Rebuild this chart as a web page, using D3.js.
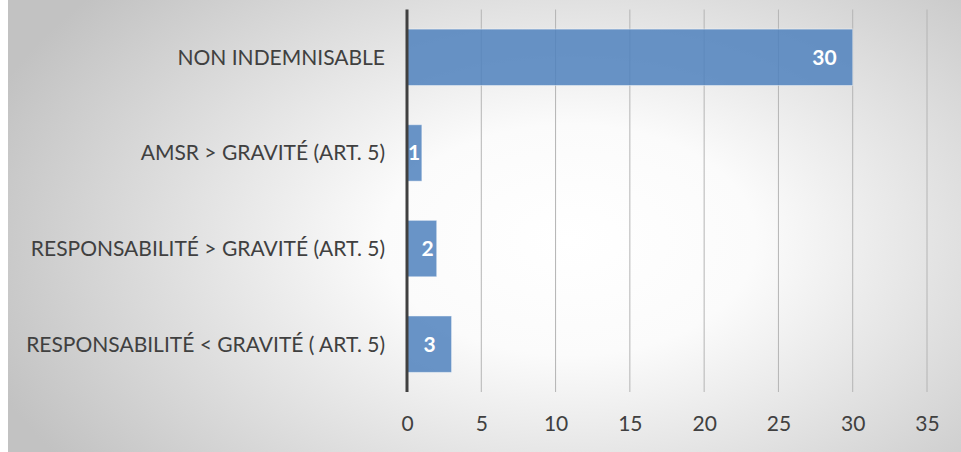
<!DOCTYPE html>
<html>
<head>
<meta charset="utf-8">
<script src="https://cdn.jsdelivr.net/npm/d3@7"></script>
<style>
  html, body { margin: 0; padding: 0; background: #fff; }
  svg { display: block; }
</style>
</head>
<body>
<svg id="chart"></svg>
<script>
// Data, top to bottom as drawn
const categories = [
  "NON INDEMNISABLE",
  "AMSR > GRAVITÉ (ART. 5)",
  "RESPONSABILITÉ > GRAVITÉ (ART. 5)",
  "RESPONSABILITÉ < GRAVITÉ ( ART. 5)"
];
const values = [30, 1, 2, 3];
const xTicks = [0, 5, 10, 15, 20, 25, 30, 35];

const width = 961;
const height = 452;
const margin = { top: 9.5, right: 34, bottom: 60, left: 407 };
const fontFamily = "Lato, 'Open Sans', sans-serif";
const fontSize = "21px";

const svg = d3.select("#chart").attr("width", width).attr("height", height);

// Background gradient
const defs = svg.append("defs");
const grad = defs
  .append("radialGradient")
  .attr("id", "bg")
  .attr("gradientUnits", "userSpaceOnUse")
  .attr("cx", 570)
  .attr("cy", 240)
  .attr("r", 620)
  .attr("gradientTransform", "translate(570,240) scale(1,0.62) translate(-570,-240)");
grad.append("stop").attr("offset", "0%").attr("stop-color", "#ffffff");
grad.append("stop").attr("offset", "30%").attr("stop-color", "#fbfbfb");
grad.append("stop").attr("offset", "100%").attr("stop-color", "#c2c2c2");

svg
  .append("rect")
  .attr("x", 8)
  .attr("y", 0)
  .attr("width", width - 8)
  .attr("height", height)
  .attr("fill", "url(#bg)");

// Scales
const xScale = d3
  .scaleLinear()
  .domain([0, 35])
  .range([margin.left, width - margin.right]);

const yScale = d3
  .scaleBand()
  .domain(categories)
  .range([margin.top, height - margin.bottom])
  .paddingInner(0.41)
  .paddingOuter(0.205);

const plotTop = margin.top;
const plotBottom = height - margin.bottom;

// Gridlines
svg
  .append("g")
  .attr("class", "grid")
  .selectAll("line")
  .data(xTicks.slice(1))
  .enter()
  .append("line")
  .attr("x1", d => xScale(d))
  .attr("x2", d => xScale(d))
  .attr("y1", plotTop)
  .attr("y2", plotBottom)
  .attr("stroke", "#b4b4b4")
  .attr("stroke-width", 1);

// Bars
svg
  .selectAll(".bar")
  .data(values)
  .enter()
  .append("rect")
  .attr("class", "bar")
  .attr("x", xScale(0))
  .attr("y", (d, i) => yScale(categories[i]))
  .attr("width", d => xScale(d) - xScale(0))
  .attr("height", yScale.bandwidth())
  .attr("fill", "rgba(79,129,189,0.85)")
  .attr("stroke", "rgba(255,255,255,0.45)")
  .attr("stroke-width", 1);

// Value labels (inside end)
svg
  .selectAll(".value")
  .data(values)
  .enter()
  .append("text")
  .attr("class", "value")
  .attr("y", (d, i) => yScale(categories[i]) + yScale.bandwidth() / 2)
  .attr("dy", "0.36em")
  .attr("fill", "#ffffff")
  .style("font-family", fontFamily)
  .style("font-size", fontSize)
  .style("font-weight", "bold")
  .text(d => d)
  .each(function (d) {
    const w = this.getComputedTextLength();
    const end = xScale(d);
    const barW = end - xScale(0);
    let right = barW > w + 32 ? end - 16 : end - 3;
    if (right - w < xScale(0) + 1) right = xScale(0) + 1 + w;
    d3.select(this).attr("x", right).attr("text-anchor", "end");
  });

// Category labels
svg
  .append("g")
  .selectAll("text")
  .data(categories)
  .enter()
  .append("text")
  .attr("x", margin.left - 22)
  .attr("y", d => yScale(d) + yScale.bandwidth() / 2)
  .attr("dy", "0.36em")
  .attr("text-anchor", "end")
  .attr("fill", "#404040")
  .style("font-family", fontFamily)
  .style("font-size", fontSize)
  .text(d => d);

// X axis (labels only)
const xAxis = d3.axisBottom(xScale).tickValues(xTicks).tickSize(0).tickPadding(0);
const xg = svg
  .append("g")
  .attr("id", "x-axis")
  .attr("transform", `translate(0, ${plotBottom})`)
  .call(xAxis);
xg.select(".domain").remove();
xg.selectAll("text")
  .attr("y", 31)
  .attr("dy", "0.36em")
  .attr("fill", "#404040")
  .style("font-family", fontFamily)
  .style("font-size", fontSize);

// Category axis line at zero
svg
  .append("line")
  .attr("x1", xScale(0))
  .attr("x2", xScale(0))
  .attr("y1", plotTop)
  .attr("y2", plotBottom)
  .attr("stroke", "#404040")
  .attr("stroke-width", 3);
</script>
</body>
</html>
